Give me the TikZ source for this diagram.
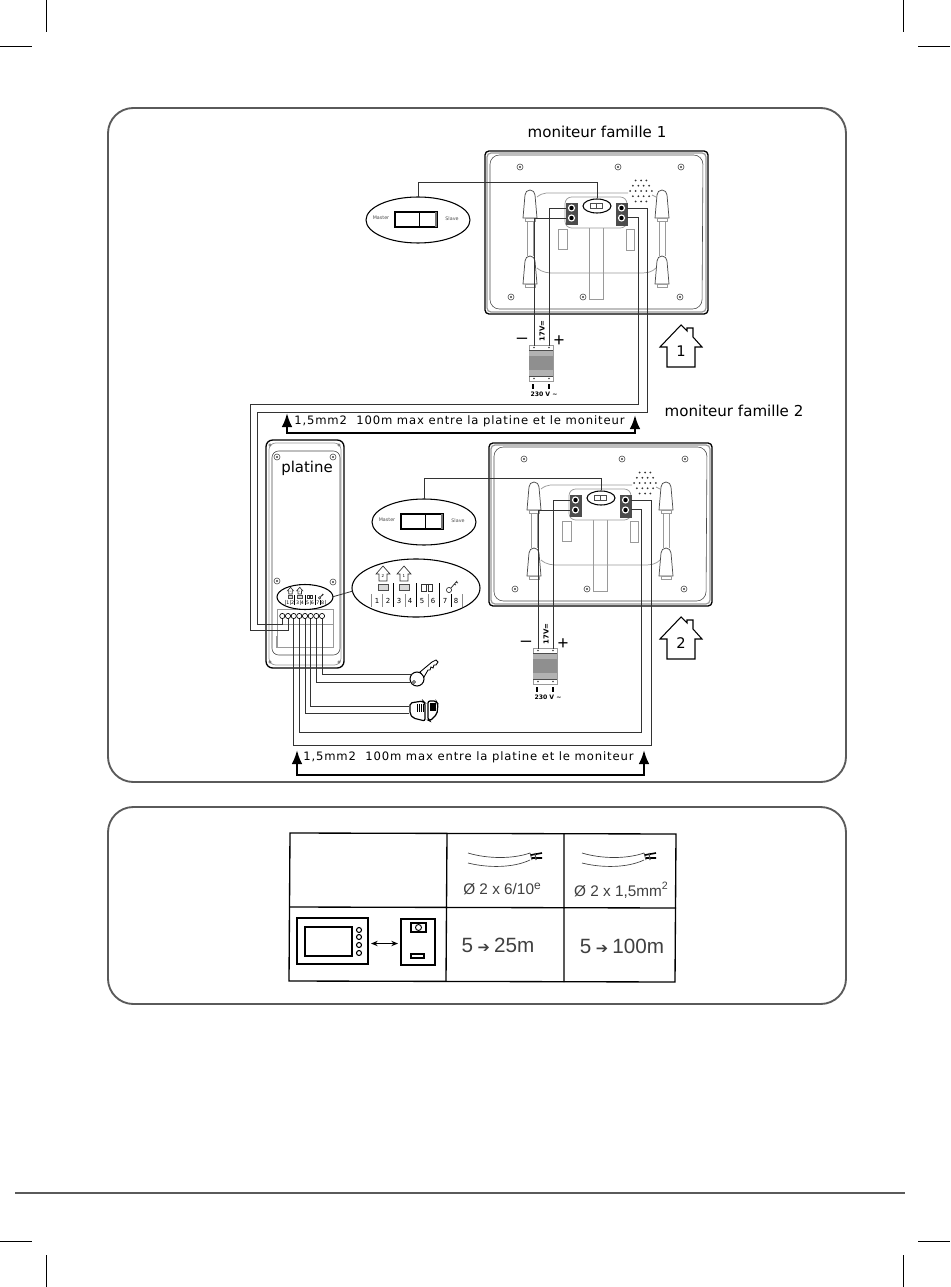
\documentclass[tikz,border=0pt]{standalone}
\usepackage{fontspec}
\setmainfont{DejaVu Sans}
\newfontfamily\wide[LetterSpace=7.5]{DejaVu Sans}
\newfontfamily\lib{Liberation Sans}
\newfontfamily\dv{DejaVu Sans}
\usetikzlibrary{arrows.meta,calc}
\definecolor{panelc}{HTML}{5A5A5A}
\definecolor{softg}{HTML}{9A9A9A}
\definecolor{psug}{HTML}{A8A8A8}
\tikzset{
  panel/.style={draw=panelc,line width=1.4pt,rounded corners=19pt,fill=white},
  wire/.style={draw=black!80,line width=.6pt},
  softline/.style={draw=softg,line width=.55pt},
  fineline/.style={draw=black!70,line width=.45pt},
  bigarrow/.style={draw=black,line width=1.7pt,{Latex[length=10.5pt,width=8pt]}-{Latex[length=10.5pt,width=8pt]}},
  crop/.style={draw=black,line width=.6pt},
  lbl/.style={inner sep=0pt,font=\dv\fontsize{11.3}{13}\selectfont},
  wlbl/.style={inner sep=0pt,font=\wide\fontsize{8.7}{10}\selectfont},
  tiny/.style={inner sep=0pt,font=\dv\fontsize{3.6}{4}\selectfont,text=black!70},
  bold/.style={inner sep=0pt,font=\dv\bfseries\fontsize{4.6}{5}\selectfont},
  tb/.style={inner sep=0pt,font=\lib\fontsize{11.5}{13}\selectfont,text=black!75},
  tbb/.style={inner sep=0pt,font=\lib\fontsize{15.5}{17}\selectfont,text=black!75},
  cell/.style={draw=black,line width=1pt},
}
\newcommand{\hookshape}[2]{%
  \draw[draw=black!70,line width=.55pt,fill=white] (#1-7,#2+29) -- (#1-5,#2+6)
     arc[start angle=180,end angle=360,radius=5] -- (#1+7,#2+29) -- cycle;
  \draw[softline,fill=white] (#1-5,#2+29) rectangle (#1+5,#2+32);
}
\newcommand{\monitorback}[2]{%
\begin{scope}[shift={#2}]
  \draw[draw=black,line width=1pt,fill=white,rounded corners=3pt] (485,151) rectangle (708,314);
  \draw[softline,line width=.9pt,rounded corners=3pt] (487,153) rectangle (706,312);
  \draw[fineline,rounded corners=7pt] (490,155) -- (703,155) -- (702,309) -- (490,309) -- cycle;
  \foreach \p in {(520,167),(618,167),(681,167),(511,297),(583,297),(680,297)}{
    \draw[fineline,fill=white] \p circle (3);
    \fill[black!75] \p circle (1.2);
  }
  \foreach \dx/\dy in {0/0,-6/0,6/0,-12/0,12/0,-3/-5,3/-5,-9/-5,9/-5,-3/5,3/5,-9/5,9/5,0/-10,-6/-10,6/-10,0/10,-6/10,6/10}{
    \fill[black!80] (641+\dx*.9,191+\dy*1.05) circle (1);
  }
  \draw[softline] (537,197) .. controls (543,192) and (548,193) .. (556,193) -- (628,193);
  \draw[softline] (652,195) -- (656,197);
  \draw[softline] (537,268) .. controls (543,273) and (548,273) .. (556,273) -- (640,273) .. controls (648,273) and (652,272) .. (656,268);
  \draw[softline] (527,222) -- (527,256) (533,222) -- (533,256);
  \draw[softline] (659,222) -- (659,256) (665,222) -- (665,256);
  \hookshape{530}{189}
  \hookshape{662}{189}
  \hookshape{530}{255}
  \hookshape{662}{255}
  \draw[softline] (558,229) rectangle (567,249);
  \draw[softline] (626,229) rectangle (634,250);
  \draw[softline] (589,228) -- (589,299) -- (603,299) -- (603,228);
  \draw[softline,fill=white,rounded corners=5pt] (565,197) rectangle (627,228);
  \draw[draw=black!70,fill=black!70] (566,203) rectangle (577,224);
  \draw[draw=black!70,fill=black!70] (616,203) rectangle (627,225);
  \foreach \q in {(571.5,208),(571.5,218),(621.5,208),(621.5,218)}{
    \fill[white] \q circle (3.6);
    \fill[black] \q circle (2.2);
  }
  \draw[draw=black,line width=.8pt,fill=white] (597,206) ellipse[x radius=14,y radius=7];
  \draw[draw=black!70,line width=.5pt] (590,203) rectangle (602,208);
  \draw[draw=black!70,line width=.5pt] (596,203) -- (596,208);
  \coordinate (#1sw) at (597,198);
  \coordinate (#1minus) at (566,218);
  \coordinate (#1plus) at (566,208);
  \coordinate (#1ra) at (627,208);
  \coordinate (#1rb) at (627,217);
\end{scope}}
\newcommand{\masterslave}[2]{%
\begin{scope}[shift={#2}]
  \draw[draw=black,line width=.8pt,fill=white] (0,0) ellipse[x radius=52,y radius=23];
  \draw[draw=black,line width=.9pt] (-23,-8) rectangle (19,7);
  \draw[draw=black,line width=.7pt] (1,-8) -- (1,7);
  \fill[black!55] (17,-8) rectangle (19,7);
  \node[tiny] (#1m) at (-37,-2) {Master};
  \node[tiny] (#1s) at (34,-1) {Slave};
  \coordinate (#1top) at (0,-23);
\end{scope}}
\newcommand{\psu}[2]{%
\begin{scope}[shift={#2}]
  \draw[softline,fill=white] (529,345) rectangle (553,381);
  \fill[black!30] (529,350) rectangle (553,376);
  \fill[psug!85!black] (529,356) rectangle (553,370);
  \draw[black!70,line width=.4pt] (529,350) -- (553,350) (529,376) -- (553,376);
  \fill[black!75] (534,347.5) circle (.8) (549,347.5) circle (.8) (534,378.5) circle (.8) (549,378.5) circle (.8);
  \draw[black,line width=.8pt] (533,384) -- (533,389) (549,384) -- (549,389);
  \node[bold] (#1ac) at (544,394) {230 V \textasciitilde};
  \node[bold,rotate=90] (#1dc) at (542,331) {\fontsize{5.2}{6}\selectfont 17V=};
  \node[inner sep=0pt,font=\lib\fontsize{14}{15}\selectfont] (#1mn) at (522,341) {–};
  \node[inner sep=0pt,font=\lib\fontsize{14}{15}\selectfont] (#1pl) at (559,341) {+};
  \coordinate (#1a) at (534,346);
  \coordinate (#1b) at (549,346);
\end{scope}}
\newcommand{\house}[3]{%
\begin{scope}[shift={#2}]
  \draw[draw=black,line width=.8pt,fill=white,line join=miter] (-14,42) -- (-14,22) -- (-21,22) -- (0,0) -- (6,6) -- (6,3) -- (12,3) -- (12,12) -- (21,22) -- (14,22) -- (14,42) -- cycle;
  \node[inner sep=0pt,font=\dv\fontsize{11}{12}\selectfont] (#1) at (0,26) {#3};
\end{scope}}
\newcommand{\minihouse}[3]{%
\begin{scope}[shift={#1}]
  \draw[draw=black!80,line width=.5pt,fill=white] (-4,7) -- (-4,0) -- (-7,0) -- (0,-8) -- (7,0) -- (4,0) -- (4,7) -- cycle;
  \node[inner sep=0pt,font=\dv\fontsize{3}{3}\selectfont] at (0,2) {#2};
  \draw[draw=black!70,line width=.4pt,fill=black!15] (-5,#3) rectangle (5,#3+6);
\end{scope}}
\newcommand{\keyicon}[1]{%
\begin{scope}[shift={#1}]
  \draw[black!80,line width=.5pt] (-3,3) circle (2.6);
  \draw[black!80,line width=.6pt] (-1,1) -- (5,-6) (2,-3) -- (4,-2) (4,-5) -- (6,-4);
\end{scope}}
\newcommand{\keypad}[1]{%
  \minihouse{(-33,-14)}{2}{10}
  \minihouse{(-12,-14)}{1}{10}
  \draw[black!80,line width=.4pt] (5,-4) rectangle (10,3) (12,-4) rectangle (16,3);
  \draw[black!80,line width=.4pt] (5,-4) -- (16,-4);
  \keyicon{(36,-1)}
  \foreach \x in {-45,-34,-11,12,46}{\draw[black!45,line width=.4pt] (\x,6) -- (\x,19);}
  \foreach \x in {-23,0,23}{\draw[black,line width=.7pt] (\x,-5) -- (\x,19);}
  \draw[black,line width=.7pt] (35,6) -- (35,19);
  \foreach \x/\t in {-39/1,-28/2,-17/3,-6/4,6/5,17/6,29/7,40/8}{
    \node[inner sep=0pt,font=\dv\fontsize{#1}{#1}\selectfont] at (\x,13) {\t};
  }
}
\newcommand{\cable}[1]{%
\begin{scope}[shift={#1}]
  \draw[black!75,line width=.5pt] (0,0) .. controls (20,6) and (45,6) .. (62,0);
  \draw[black!75,line width=.5pt] (0,10) .. controls (20,15) and (45,15) .. (62,7);
  \draw[black!75,line width=.6pt] (62,0) -- (64,7);
  \draw[black,line width=1.2pt] (63,2) -- (74,0) (64,5) -- (74,5);
  \draw[black!70,line width=.9pt] (67,0) -- (68,7);
\end{scope}}
\begin{document}
\begin{tikzpicture}[x=.75pt,y=-.75pt]
\useasboundingbox (0,0) rectangle (950,1287);
\fill[white] (0,0) rectangle (950,1287);
% crop marks
\draw[crop] (46,0) -- (46,32) (903,0) -- (903,32) (0,46) -- (32,46) (918,46) -- (950,46);
\draw[crop] (46,1255) -- (46,1287) (903,1255) -- (903,1287) (0,1241) -- (32,1241) (918,1241) -- (950,1241);
\draw[panelc,line width=1pt] (15,1193) -- (905,1193);
% panels
\draw[panel] (108,108) rectangle (846,782);
\draw[panel] (108,807) rectangle (846,1004);
% monitors
\monitorback{mA}{(0,0)}
\monitorback{mB}{(4,292)}
\masterslave{bA}{(418,220)}
\masterslave{bB}{(424,522)}
\psu{pA}{(0,0)}
\psu{pB}{(4,303)}
\house{hA}{(681,325)}{1}
\house{hB}{(681,617)}{2}
% labels
\node[lbl] (la) at (597,132) {moniteur famille 1};
\node[lbl] (lb) at (734,411) {moniteur famille 2};
% platine
\draw[draw=black,line width=1pt,fill=white,rounded corners=5pt] (266,440) rectangle (344,668);
\draw[softline,rounded corners=5pt] (269,443) rectangle (341,665);
\draw[fineline,rounded corners=5pt] (272,451) rectangle (340,655);
\foreach \p in {(277,457),(333,457),(277,581),(333,582)}{
  \draw[fineline,fill=white] \p circle (3);
  \fill[black!75] \p circle (1.2);
}
\foreach \p in {(270,445),(339,445),(270,662),(339,662)}{\draw[black!60,line width=.4pt] \p circle (1.2);}
\node[inner sep=0pt,font=\dv\fontsize{11.2}{14}\selectfont] (plat) at (307,468) {platine};
\draw[softline] (277,609) rectangle (333,647);
\draw[softline] (277,624) -- (333,624);
\draw[softline] (276,636) -- (276,648);
% terminals
\foreach \i/\x in {1/282.3,2/288,3/293.7,4/299.3,5/305,6/310.7,7/316.3,8/322}{
  \draw[black,line width=.5pt,fill=white] (\x,616) circle (2.6);
  \coordinate (t\i) at (\x,618.6);
}
% keypad bubbles
\draw[draw=black,line width=.8pt,fill=white] (305,597) ellipse[x radius=28,y radius=12.5];
\begin{scope}[shift={(305,597)},scale=.44,transform shape]\keypad{8}\end{scope}
\draw[draw=black,line width=.8pt,fill=white] (416,588) ellipse[x radius=64,y radius=29];
\begin{scope}[shift={(416,588)}]\keypad{5.2}\end{scope}
\coordinate (bubS) at (332,597);
\coordinate (bubL) at (353,591);
\draw[wire] (bubS) -- (bubL);
% key icon
\coordinate (keyA) at (411,674);
\coordinate (keyB) at (410,682);
\draw[draw=black,line width=.8pt,fill=white] (417,679) circle (7);
\draw[black,line width=.5pt] (414,682) circle (1.5);
\draw[draw=black,line width=.65pt,fill=white] (420,672) -- (432,662) -- (436,660) -- (438,662) -- (436,665) -- (434,665) -- (433,668) -- (431,667) -- (430,670) -- (428,670) -- (424,677) -- cycle;
% card reader icon
\coordinate (cardA) at (409,706);
\coordinate (cardB) at (409,713);
\draw[draw=black,line width=.9pt,fill=white,rounded corners=1.5pt] (410,703) -- (423,701) -- (425,703) -- (425,721) -- (413,718) -- (410,714) -- cycle;
\draw[draw=black,line width=.9pt,fill=white,rounded corners=1.5pt] (428,701) -- (436,701) -- (438,704) -- (437,714) -- (430,721) -- (428,720) -- cycle;
\foreach \x in {417,419,421,423}{\draw[black,line width=.6pt] (\x,704) -- (\x,712);}
\foreach \x in {431,433,435}{\draw[black,line width=.8pt] (\x,703) -- (\x,711);}
% wiring
\coordinate (sAa) at (418,182);
\coordinate (sBa) at (424,478);
\draw[wire] (bAtop) -- (sAa) -| (mAsw);
\draw[wire] (bBtop) -- (sBa) -| (mBsw);
\draw[wire] (mAminus) -| (pAa);
\draw[wire] (mAplus) -| (pAb);
\draw[wire] (mBminus) -| (pBa);
\draw[wire] (mBplus) -| (pBb);
% bus to monitor 1
\coordinate (oA) at (638,404);
\coordinate (oB) at (250,630);
\coordinate (iA) at (647,412);
\coordinate (iB) at (257,624);
\draw[wire] (mArb) -| (oA) -| (oB) -| (t2);
\draw[wire] (mAra) -| (iA) -| (iB) -| (t1);
% bus to monitor 2
\coordinate (oC) at (651,745);
\coordinate (iC) at (641,732);
\draw[wire] (mBra) -| (oC) -| (t3);
\draw[wire] (mBrb) -| (iC) -| (t4);
% key and card reader wires
\draw[wire] (t5) |- (cardB);
\draw[wire] (t6) |- (cardA);
\draw[wire] (t7) |- (keyB);
\draw[wire] (t8) |- (keyA);
% thick arrows
\coordinate (arL) at (287,413);
\coordinate (arR) at (635,415);
\coordinate (arB) at (287,433);
\draw[bigarrow] (arL) -- (arL |- arB) -- (arR |- arB) -- (arR);
\node[wlbl,anchor=west] (ta) at (294,421.5) {1,5mm2\hspace{7pt}100m max entre la platine et le moniteur};
\coordinate (brL) at (297,750);
\coordinate (brR) at (644,750);
\coordinate (brB) at (297,775);
\draw[bigarrow] (brL) -- (brL |- brB) -- (brR |- brB) -- (brR);
\node[wlbl,anchor=west] (tb) at (303,757.5) {1,5mm2\hspace{7pt}100m max entre la platine et le moniteur};
% table
\coordinate (c1) at (290,833);
\coordinate (c2) at (447,833.5);
\coordinate (c3) at (564,834);
\coordinate (c4) at (676,834);
\coordinate (d1) at (290,907);
\coordinate (d4) at (676,908);
\coordinate (e1) at (289,981);
\coordinate (e2) at (446,981.5);
\coordinate (e3) at (564,982);
\coordinate (e4) at (675,982);
\draw[cell] (c1) -- (c4) -- (e4) -- (e1) -- cycle;
\draw[cell] (d1) -- (d4) (c2) -- (e2) (c3) -- (e3);
\cable{(468,853)}
\cable{(582,853)}
\node[tb] (t6e) at (502,889) {Ø 2 x 6/10\raisebox{3.5pt}{\fontsize{9}{9}\selectfont e}};
\node[tb] (t15) at (621,890) {Ø 2 x 1,5mm\raisebox{5pt}{\fontsize{8}{8}\selectfont 2}};
\node[tbb] (d25) at (498,945) {5 {\dv\fontsize{11}{9}\selectfont\hspace{-1pt}➔\hspace{-1pt}} 25m};
\node[tbb] (d100) at (622,946) {5 {\dv\fontsize{11}{9}\selectfont\hspace{-1pt}➔\hspace{-1pt}} 100m};
% intercom icon
\draw[draw=black,line width=1pt] (297,918) rectangle (368,964);
\draw[draw=black,line width=1pt] (305,927) rectangle (352,956);
\foreach \y in {930,937,945,953}{\draw[black,line width=.8pt] (359,\y) circle (2.5);}
\draw[draw=black,line width=1pt] (401,919) rectangle (435,965);
\draw[draw=black,line width=1pt] (411,923) rectangle (426,932);
\draw[black,line width=.7pt] (418.5,927.5) circle (3);
\draw[draw=black,line width=.8pt] (411,954) rectangle (424,958);
\coordinate (icoL) at (371,943.5);
\coordinate (icoR) at (398,943.5);
\draw[black,line width=.8pt,{Stealth[length=5pt,width=4pt]}-{Stealth[length=5pt,width=4pt]}] (icoL) -- (icoR);
\end{tikzpicture}
\end{document}
